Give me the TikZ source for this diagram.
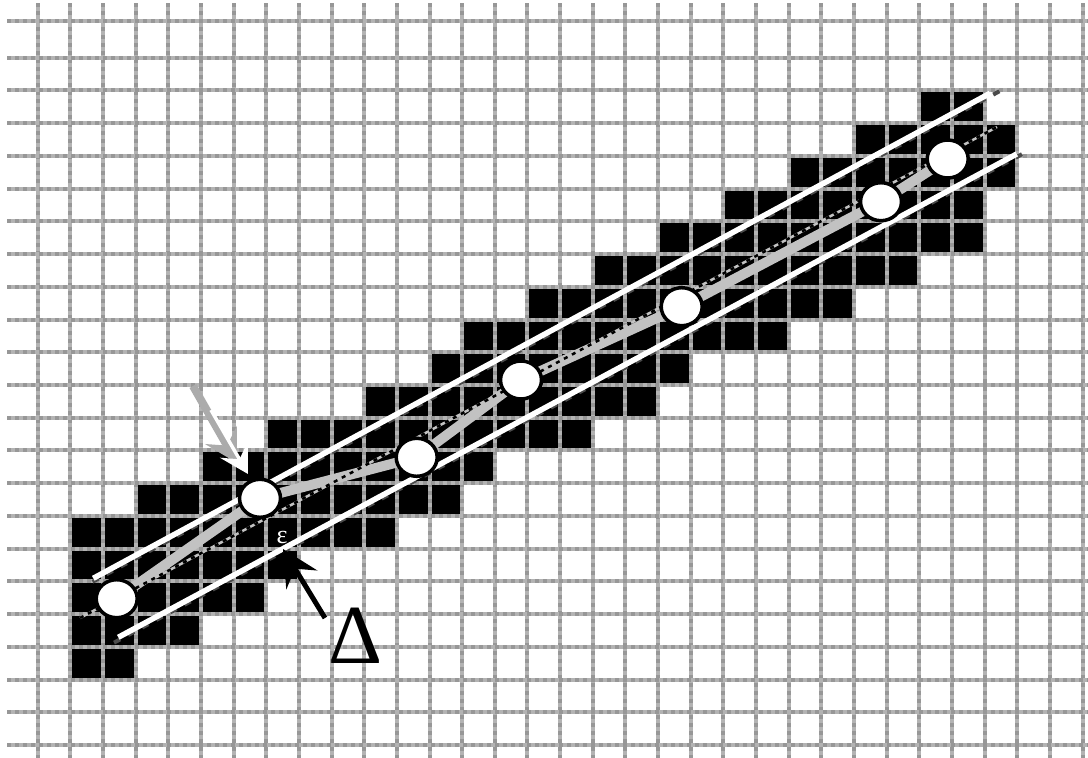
\documentclass[tikz,border=0pt]{standalone}
\usepackage{fontspec}
\newfontfamily\tnrfont{Liberation Serif}
\usetikzlibrary{arrows.meta,shapes.geometric}
\definecolor{gridlight}{HTML}{B3B3B3}
\definecolor{griddark}{HTML}{979797}
\definecolor{bandgray}{HTML}{C2C2C2}
\definecolor{edgegray}{HTML}{4A4A4A}
\definecolor{arrowgray}{HTML}{ABABAB}
\tikzset{
  gridbase/.style={draw=gridlight, line width=4pt},
  gridtop/.style={draw=griddark, line width=4pt, dash pattern=on 4pt off 4pt},
  cellfill/.style={fill=black},
  band/.style={draw=bandgray, line width=10pt, line join=round},
  fitbase/.style={draw=bandgray, line width=2.5pt},
  fittop/.style={draw=black, line width=2.5pt, dash pattern=on 4pt off 5pt},
  bound/.style={draw=white, line width=5.5pt},
  boundshadow/.style={draw=edgegray, line width=4pt, dash pattern=on 7pt off 9pt},
  sample/.style={ellipse, draw=black, fill=white, line width=3.5pt, minimum width=41pt, minimum height=38pt, inner sep=0pt},
  grayarrow/.style={draw=arrowgray, line width=8pt, -{Stealth[length=32pt, width=36pt, inset=12pt]}},
  whitearrow/.style={draw=white, line width=3.5pt, -{Stealth[length=28pt, width=32pt, inset=11pt]}},
  blackarrow/.style={draw=black, line width=5pt, -{Stealth[length=36pt, width=36pt, inset=13pt]}},
}
\begin{document}
\begin{tikzpicture}[x=1pt,y=-1pt]
\useasboundingbox (0,0) rectangle (1088,758);
\fill[white] (0,0) rectangle (1088,758);
% black cells of the digital band
\foreach \k/\a/\b in {1/27/28,2/25/29,3/23/29,4/21/28,5/19/28,6/17/26,7/15/24,8/13/22,9/12/19,10/10/18,11/7/16,12/5/13,13/3/12,14/1/10,15/1/7,16/1/6,17/1/4,18/1/2}
  \fill[cellfill] ({37.7+32.65*\a},{57.7+32.73*\k}) rectangle ({37.7+32.65*(\b+1)},{57.7+32.73*(\k+1)});
% grid
\foreach \i in {0,...,32} {
  \draw[gridbase] ({37.7+32.65*\i},3) -- ({37.7+32.65*\i},758);
  \draw[gridtop] ({37.7+32.65*\i},3) -- ({37.7+32.65*\i},758);
}
\draw[gridbase] (7,21) -- (1088,21);
\draw[gridtop] (7,21) -- (1088,21);
\foreach \k in {0,...,21} {
  \draw[gridbase] (7,{57.7+32.73*\k}) -- (1088,{57.7+32.73*\k});
  \draw[gridtop] (7,{57.7+32.73*\k}) -- (1088,{57.7+32.73*\k});
}
% sample points
\coordinate (p1) at (116.7,598.7);
\coordinate (p2) at (260,498.3);
\coordinate (p3) at (416.7,457.3);
\coordinate (p4) at (521,380);
\coordinate (p5) at (681.7,306.7);
\coordinate (p6) at (881,201.7);
\coordinate (p7) at (947.7,159);
% fitted line ends
\coordinate (r1) at (80,618);
\coordinate (r2) at (997,127);
% bounding lines
\coordinate (u1) at (93.3,578.3);
\coordinate (u2) at (990,93.3);
\coordinate (l1) at (118.3,637.3);
\coordinate (l2) at (1016.7,154);
\draw[band] (p1) -- (p2) -- (p3) -- (p4) -- (p5) -- (p6) -- (p7);
\draw[fitbase] (r1) -- (r2);
\draw[fittop] (r1) -- (r2);
\draw[boundshadow, shorten <=-2pt, shorten >=-10pt] ([shift={(1,2.5)}]u1) -- ([shift={(1,2.5)}]u2);
\draw[boundshadow, shorten <=-6pt, shorten >=-8pt] ([shift={(1,2.5)}]l1) -- ([shift={(1,2.5)}]l2);
\draw[bound] (u1) -- (u2);
\draw[bound] (l1) -- (l2);
\foreach \n in {1,...,7} \node[sample] (c\n) at (p\n) {};
% arrows
\coordinate (ga1) at (193,386);
\coordinate (ga2) at (237,463);
\coordinate (wa1) at (211,410);
\coordinate (wa2) at (248,474);
\draw[grayarrow] (ga1) -- (ga2);
\draw[whitearrow] (wa1) -- (wa2);
\coordinate (ba1) at (325,618);
\coordinate (ba2) at (283,549);
\node[inner sep=0pt, text=white, font=\tnrfont\fontsize{26}{26}\selectfont] (eps) at (282,537) {ε};
\draw[blackarrow] (ba1) -- (ba2);
\node[anchor=base, inner sep=0pt, font=\tnrfont\fontsize{84}{84}\selectfont] (delta) at (356,663) {Δ};
\end{tikzpicture}
\end{document}
